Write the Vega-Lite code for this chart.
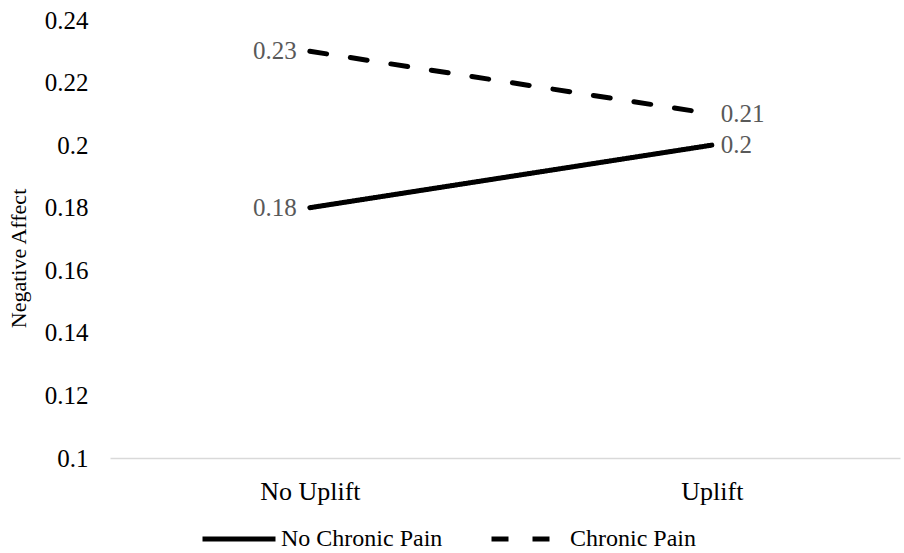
{
  "$schema": "https://vega.github.io/schema/vega-lite/v6.json",
  "width": 790,
  "height": 438,
  "autosize": "none",
  "padding": {"left": 110, "top": 20, "right": 4, "bottom": 95},
  "config": {
    "view": {"stroke": null},
    "font": "Liberation Serif"
  },
  "data": {
    "values": [
      {"uplift": "No Uplift", "group": "No Chronic Pain", "value": 0.18},
      {"uplift": "Uplift", "group": "No Chronic Pain", "value": 0.2},
      {"uplift": "No Uplift", "group": "Chronic Pain", "value": 0.23},
      {"uplift": "Uplift", "group": "Chronic Pain", "value": 0.21}
    ]
  },
  "encoding": {
    "x": {
      "field": "uplift", "type": "nominal", "sort": ["No Uplift", "Uplift"],
      "scale": {"type": "point", "padding": 0.4826, "align": 0.515},
      "axis": {"title": null, "labelAngle": 0, "labelFont": "Liberation Serif", "labelFontSize": 26, "labelColor": "#000000", "ticks": false, "labelPadding": 20, "domainColor": "#d9d9d9", "domainWidth": 1.5, "grid": false}
    },
    "y": {
      "field": "value", "type": "quantitative",
      "scale": {"domain": [0.1, 0.24], "nice": false, "zero": false},
      "axis": {"title": "Negative Affect", "values": [0.1, 0.12, 0.14, 0.16, 0.18, 0.2, 0.22, 0.24], "labelExpr": "format(datum.value, '.2~f')", "labelFont": "Liberation Serif", "labelFontSize": 25, "labelColor": "#000000", "ticks": false, "domain": false, "grid": false, "labelPadding": 22, "titleFont": "Liberation Serif", "titleFontSize": 22, "titleFontWeight": "normal", "titleColor": "#000000", "titleX": -92, "titleY": 238, "titleAngle": -90, "titleAlign": "center", "titleBaseline": "middle"}
    }
  },
  "layer": [
    {
      "mark": {"type": "line", "color": "#000000", "strokeWidth": 5, "strokeCap": "round"},
      "encoding": {
        "detail": {"field": "group"},
        "strokeDash": {
          "field": "group", "type": "nominal",
          "scale": {"domain": ["No Chronic Pain", "Chronic Pain"], "range": [[1, 0], [17, 24]]},
          "legend": {"title": null, "orient": "none", "direction": "horizontal", "legendX": 90, "legendY": 480, "symbolType": "stroke", "symbolSize": 5329, "symbolStrokeWidth": 5, "symbolStrokeColor": "#000000", "labelFont": "Liberation Serif", "labelFontSize": 24, "labelColor": "#000000", "labelOffset": 3, "columnPadding": 38, "labelLimit": 300}
        }
      }
    },
    {
      "transform": [{"filter": "datum.uplift == 'No Uplift'"}],
      "mark": {"type": "text", "align": "right", "baseline": "middle", "dx": -13, "fontSize": 25, "color": "#595959", "font": "Liberation Serif"},
      "encoding": {"text": {"field": "value", "type": "quantitative", "format": ".2~f"}}
    },
    {
      "transform": [{"filter": "datum.uplift == 'Uplift'"}],
      "mark": {"type": "text", "align": "left", "baseline": "middle", "dx": 9, "fontSize": 25, "color": "#595959", "font": "Liberation Serif"},
      "encoding": {"text": {"field": "value", "type": "quantitative", "format": ".2~f"}}
    }
  ]
}
